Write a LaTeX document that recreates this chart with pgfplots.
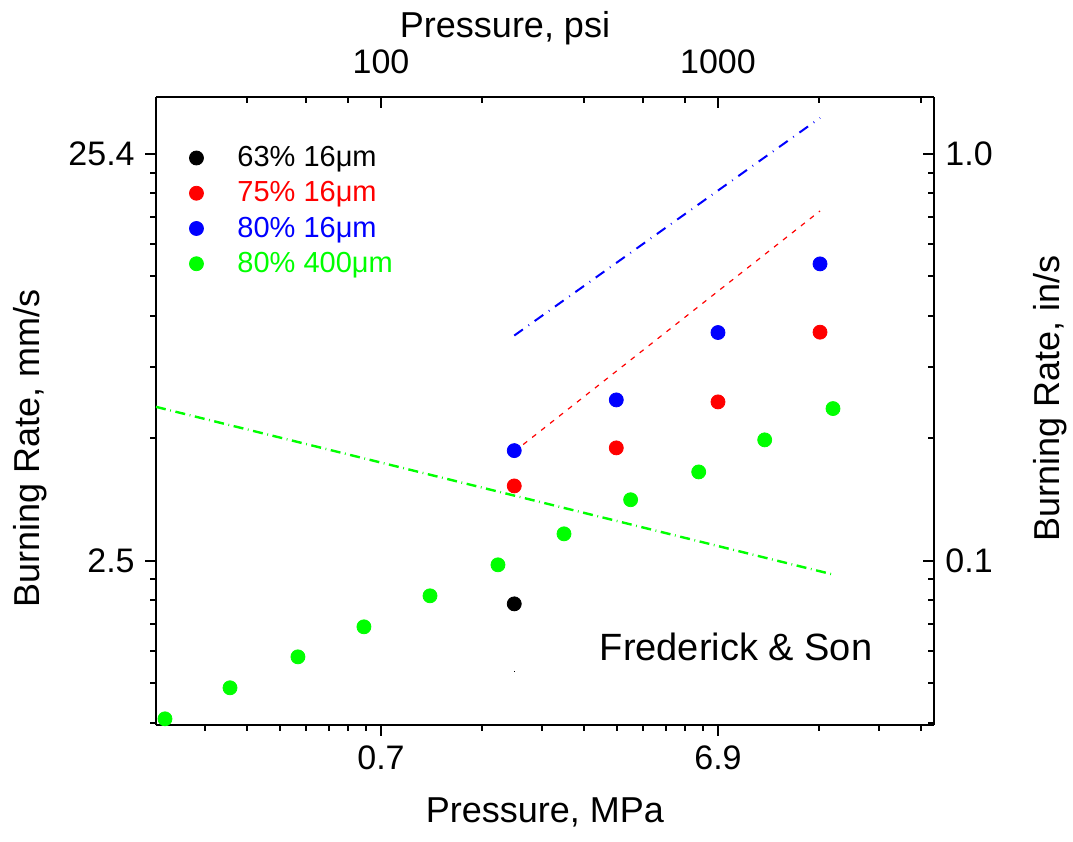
\documentclass[border=0pt]{standalone}
\usepackage{pgfplots}
\pgfplotsset{compat=1.18}
\usepackage{fontspec}
\setmainfont{Liberation Sans}
\begin{document}
\begin{tikzpicture}
\useasboundingbox (-78pt,-58.5pt) rectangle (458.5pt,362.5pt);
\begin{axis}[
  xmode=log, ymode=log,
  xmin=21.5, xmax=4375, ymin=0.0395, ymax=1.38,
  width=389pt, height=314pt, scale only axis,
  axis line style={line width=1.2pt},
  every tick/.style={black, line width=1pt},
  major tick length=5.5pt, minor tick length=2.8pt,
  tick label style={font=\fontsize{17}{20}\selectfont},
  xtick={100,1000}, ytick={0.1,1},
  minor ytick={0.04,0.05,0.06,0.07,0.08,0.09,0.2,0.3,0.4,0.5,0.6,0.7,0.8,0.9},
  clip=false,
  axis x line*=bottom, axis y line*=left,
  xtick pos=left, ytick pos=left,
  tick align=outside,
  xticklabels={0.7,6.9}, yticklabels={2.5,25.4},
  minor xtick={30,40,50,60,70,80,90,200,300,400,500,600,700,800,900,2000,3000,4000},
  xticklabel style={anchor=base, yshift=-16.75pt},
  yticklabel style={anchor=east, inner sep=0pt, xshift=-5pt},
  xlabel={Pressure, MPa}, ylabel={Burning Rate, mm/s},
  xlabel style={at={(axis description cs:0.5,-0.1385)}, anchor=center, font=\fontsize{18}{22}\selectfont},
  ylabel style={at={(axis description cs:-0.162,0.441)}, anchor=center, font=\fontsize{18}{22}\selectfont},
  legend style={draw=none, fill=none, at={(axis description cs:0.0425,0.9284)}, anchor=north west,
    font=\fontsize{14.5}{16}\selectfont, inner sep=0pt, row sep=2pt},
  legend cell align=left,
]
\addplot[only marks, mark=*, mark size=3.5pt, black] coordinates {(248.6,0.0784)};
\addlegendentry{\hspace*{15pt}63\% 16μm}
\addplot[only marks, mark=*, mark size=3.5pt, red] coordinates {
(248.6,0.1528) (499.2,0.1895) (1000,0.2458) (2008,0.3647)};
\addlegendentry{\hspace*{15pt}\textcolor{red}{75\% 16μm}}
\addplot[only marks, mark=*, mark size=3.5pt, blue] coordinates {
(248.6,0.1866) (499.2,0.2486) (1000,0.3640) (2008,0.5367)};
\addlegendentry{\hspace*{15pt}\textcolor{blue}{80\% 16μm}}
\addplot[only marks, mark=*, mark size=3.5pt, green] coordinates {
(22.86,0.0409) (35.65,0.04875) (56.7,0.05808) (89.0,0.06884) (139.8,0.08204)
(222.4,0.09776) (349.2,0.1165) (550.5,0.1413) (876.6,0.1654) (1376,0.1983) (2194,0.2367)};
\addlegendentry{\hspace*{15pt}\textcolor{green}{80\% 400μm}}
\addplot[forget plot, blue, line width=1pt, dash pattern=on 5.3pt off 3.4pt on 0.4pt off 3.4pt] coordinates {(248.6,0.3578) (2008,1.226)};
\addplot[forget plot, red, line width=0.6pt, dash pattern=on 2.5pt off 3.2pt] coordinates {(248.6,0.1856) (2008,0.7244)};
\addplot[forget plot, green, line width=1.2pt, dash pattern=on 5pt off 2.3pt on 0.4pt off 2.3pt] coordinates {(21.5,0.2390) (2223,0.0923)};
\addplot[forget plot, black, line width=0.8pt] coordinates {(248.6,0.0534) (250.2,0.0534)};
\node[font=\fontsize{19}{22}\selectfont] at (axis description cs:0.7455,0.124) {Frederick \& Son};
\end{axis}
\begin{axis}[
  xmode=log, ymode=log,
  xmin=21.5, xmax=4375, ymin=0.0395, ymax=1.38,
  width=389pt, height=314pt, scale only axis,
  axis line style={line width=1.2pt},
  every tick/.style={black, line width=1pt},
  major tick length=5.5pt, minor tick length=2.8pt,
  tick label style={font=\fontsize{17}{20}\selectfont},
  xtick={100,1000}, ytick={0.1,1},
  minor ytick={0.04,0.05,0.06,0.07,0.08,0.09,0.2,0.3,0.4,0.5,0.6,0.7,0.8,0.9},
  axis x line*=top, axis y line*=right,
  xtick pos=right, ytick pos=right,
  xticklabel pos=right, yticklabel pos=right,
  tick align=inside,
  xticklabels={100,1000}, yticklabels={0.1,1.0},
  minor xtick={40,60,80,200,400,600,800,2000,4000},
  xticklabel style={anchor=base, yshift=11.75pt},
  yticklabel style={anchor=west, inner sep=0pt, xshift=5.5pt},
  xlabel={Pressure, psi}, ylabel={Burning Rate, in/s},
  xlabel style={at={(axis description cs:0.4486,1.1099)}, anchor=center, font=\fontsize{18}{22}\selectfont},
  ylabel style={at={(axis description cs:1.149,0.52)}, anchor=center, font=\fontsize{18}{22}\selectfont},
]
\end{axis}
\end{tikzpicture}
\end{document}
